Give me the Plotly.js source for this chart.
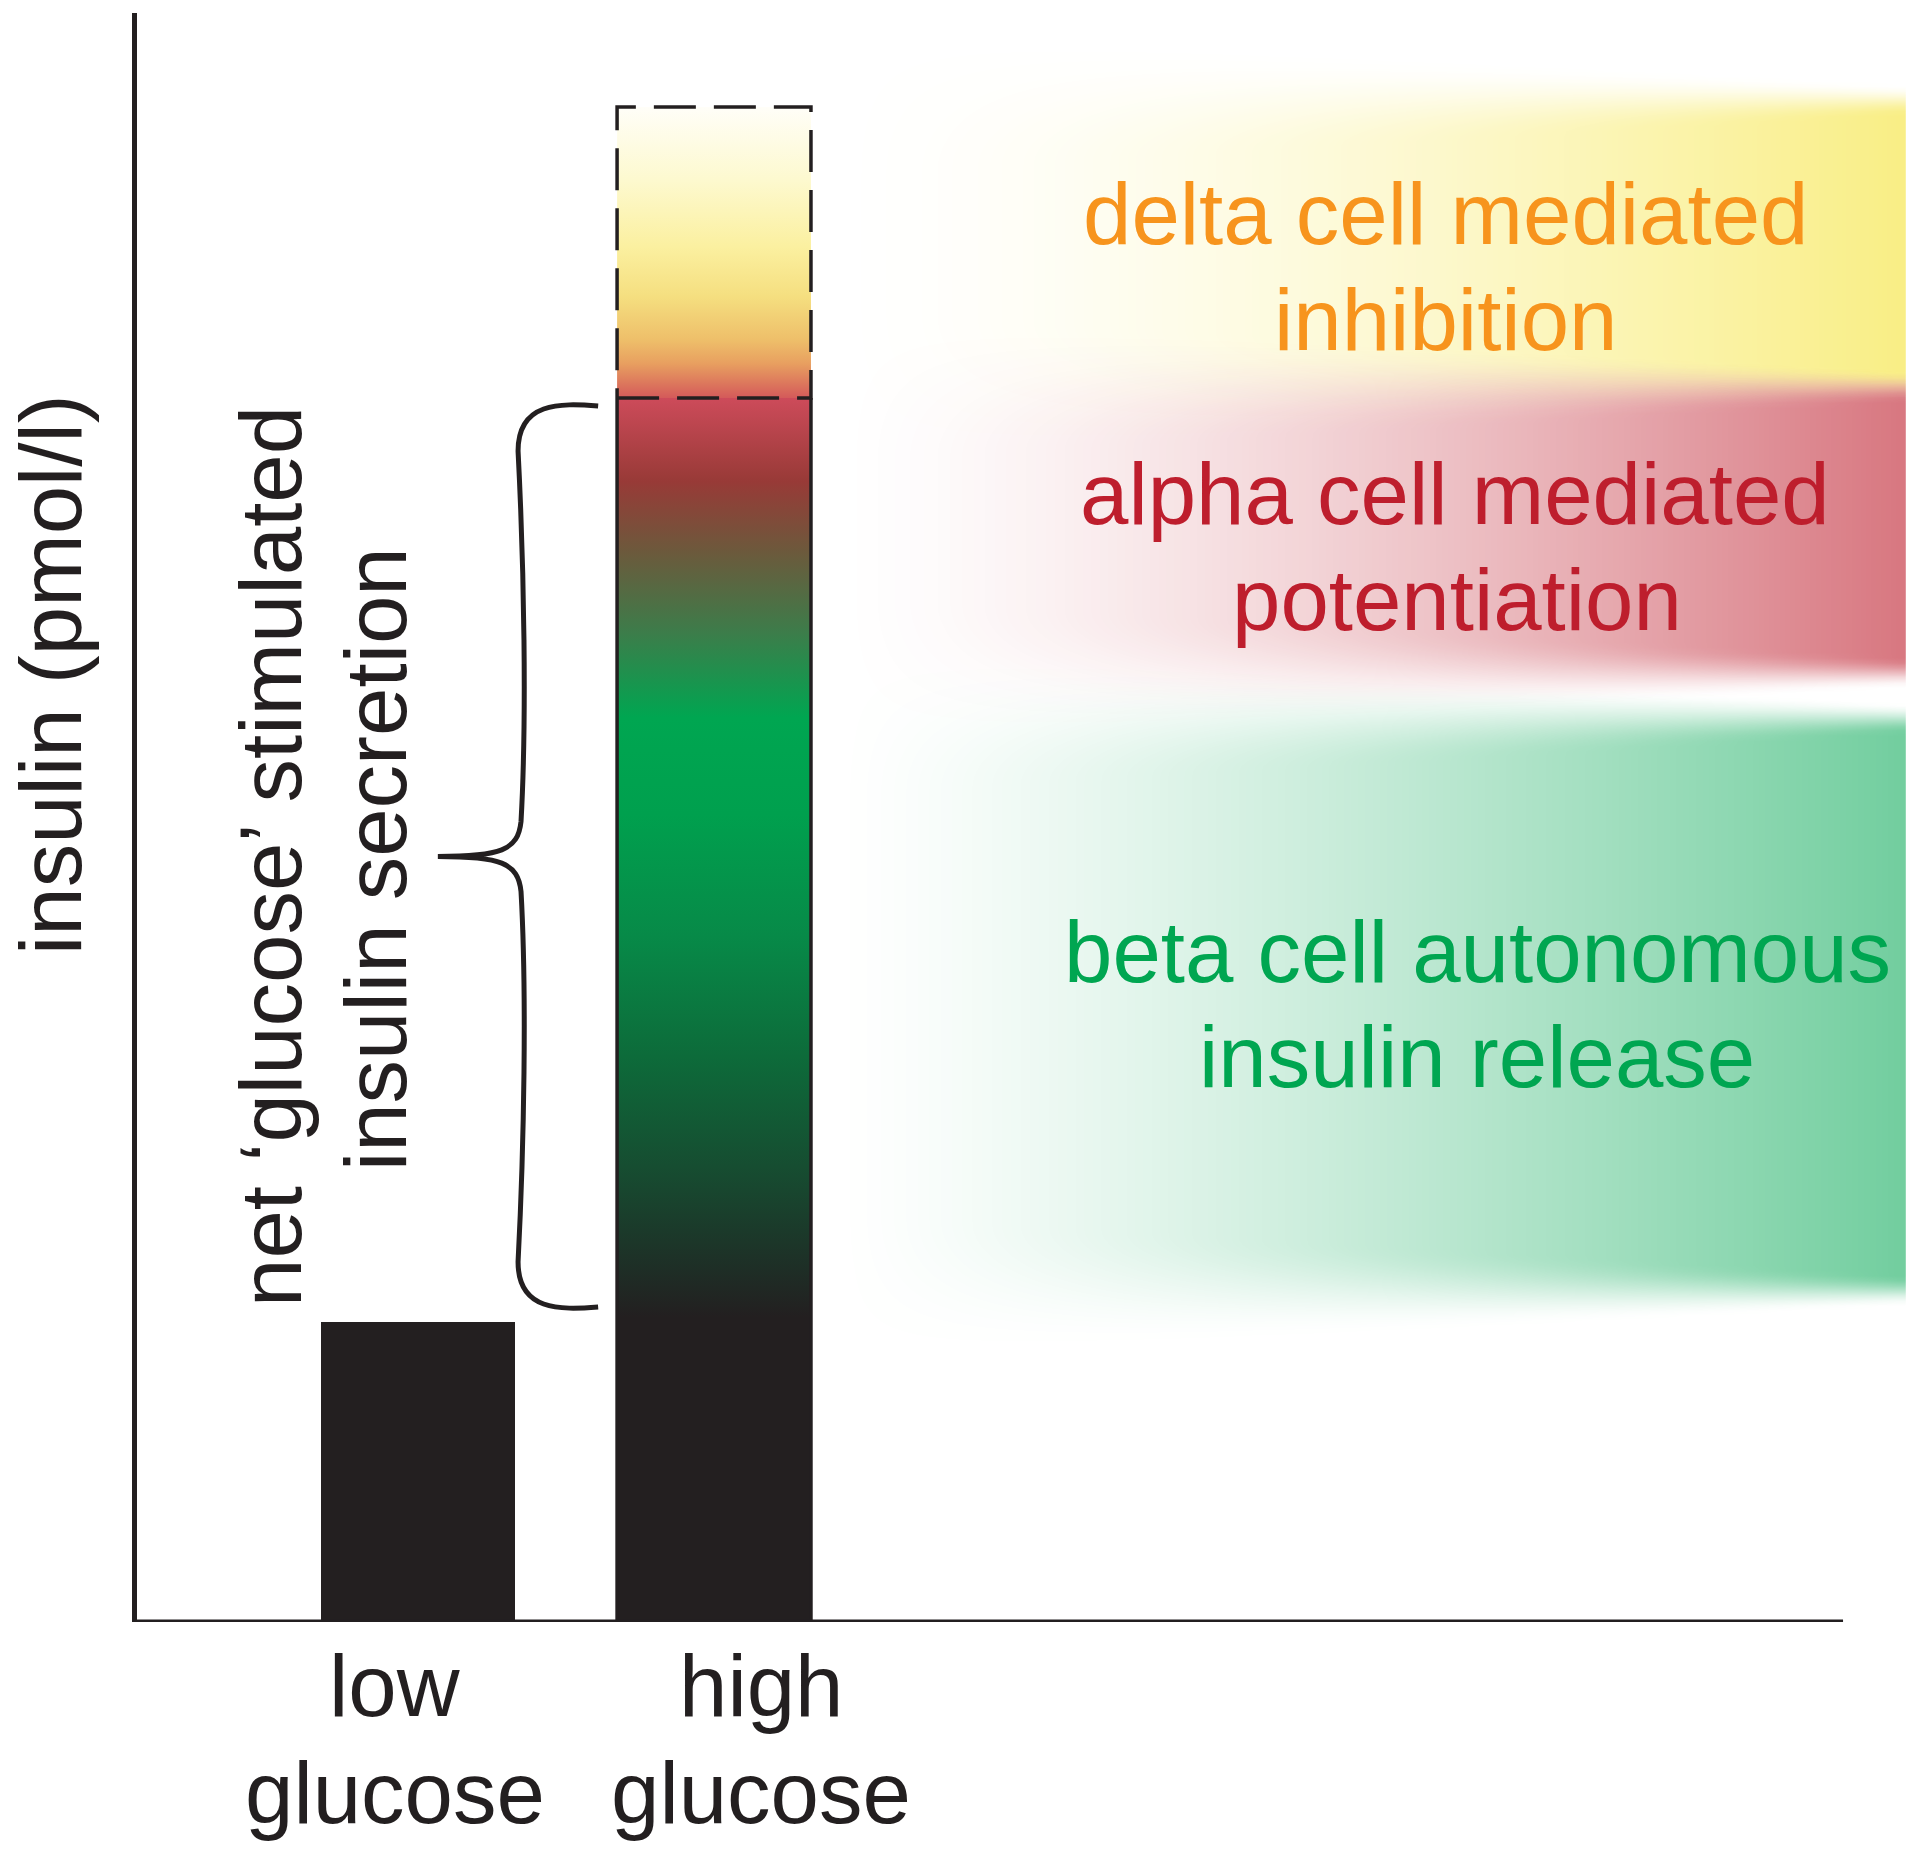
<!DOCTYPE html>
<html>
<head>
<meta charset="utf-8">
<script src="https://cdn.plot.ly/plotly-3.0.1.min.js"></script>
<style>
  html, body { margin: 0; padding: 0; background: #ffffff; }
  #chart { width: 1920px; height: 1857px; }
</style>
</head>
<body>
<div id="chart"></div>
<script>
// ---------------- data ----------------
const conditions = ["low glucose", "high glucose"];
const tickLines = [["low", "glucose"], ["high", "glucose"]];
const insulin = [30, 122.4];            // measured net insulin (arbitrary units)
const insulinWithoutDelta = 151.5;      // high glucose without delta-cell inhibition
const yAxisTitle = "insulin (pmol/l)";
const bracketLines = ["net \u2018glucose\u2019 stimulated", "insulin secretion"];

const bandNames = ["delta", "alpha", "beta"];
const bandLines = [
  ["delta cell mediated", "inhibition"],
  ["alpha cell mediated", "potentiation"],
  ["beta cell autonomous", "insulin release"]
];
const bandLow  = [123.6, 95.0, 33.2];
const bandHigh = [152.2, 123.6, 90.4];

// ---------------- styles ----------------
const INK = "#231f20";
const FONT = "Liberation Sans, Arial, Helvetica, sans-serif";
const FS = 87;
const bandTextColors = ["#f7941d", "#be1e2d", "#00a651"];
const bandGlowRGB = [[245, 228, 60], [190, 30, 45], [0, 166, 81]];
const bandGlowAlpha = [0.62, 0.6, 0.55];
const bandGlowPow = [1.5, 1.4, 1.25];
const barW = 0.655;
const xPos = [0, 1];

const xRange = [-0.9493, 5.074];
const yRange = [0, 160.9];

// ---------------- glows (decorative soft backgrounds) ----------------
function smooth(u) { u = Math.max(0, Math.min(1, u)); return u * u * (3 - 2 * u); }
function glowTrace(i) {
  const gx0 = 1.42, gx1 = 5.0;
  const xs = [], ys = [], z = [];
  const nx = 70;
  for (let k = 0; k <= nx; k++) xs.push(gx0 + (gx1 - gx0) * k / nx);
  const lo = bandLow[i], hi = bandHigh[i];
  for (let y = lo - 14; y <= hi + 14; y += 0.5) ys.push(y);
  ys.forEach(y => {
    z.push(xs.map(x => {
      const t = (x - gx0) / (gx1 - gx0);
      const h = Math.pow(Math.max(0, t), bandGlowPow[i]);
      const f = 3.0 + 12 * (1 - t);
      const v = smooth((y - (lo - f / 2)) / f) * smooth(((hi + f / 2) - y) / f);
      return h * v;
    }));
  });
  const c = bandGlowRGB[i];
  return {
    type: "heatmap", x: xs, y: ys, z: z, zmin: 0, zmax: 1, zsmooth: "best",
    showscale: false, hoverinfo: "skip", name: bandNames[i] + " glow",
    colorscale: [[0, `rgba(${c[0]},${c[1]},${c[2]},0)`], [1, `rgba(${c[0]},${c[1]},${c[2]},${bandGlowAlpha[i]})`]]
  };
}

const traces = [];
bandNames.forEach((_, i) => traces.push(glowTrace(i)));

// bars
traces.push({
  type: "bar", x: xPos, y: insulin, width: barW, name: "insulin",
  text: conditions, textposition: "none", hoverinfo: "text+y",
  marker: { color: [INK, "rgba(0,0,0,0)"], line: { width: 0 } }
});

// gradient fill for the high glucose bar
const xl = xPos[1] - barW / 2, xr = xPos[1] + barW / 2;
traces.push({
  type: "scatter", mode: "lines", hoverinfo: "skip", showlegend: false,
  x: [xl, xl, xr, xr], y: [insulin[1], 0, 0, insulin[1]],
  fill: "toself",
  fillgradient: {
    type: "vertical", start: 0, stop: insulin[1],
    colorscale: [
      [0, "#231f20"], [0.249, "#231f20"], [0.288, "#1e2e26"], [0.363, "#174a30"],
      [0.462, "#0d6b3a"], [0.561, "#078a48"], [0.66, "#00a04e"], [0.739, "#00a651"],
      [0.809, "#3d7c4a"], [0.873, "#6b5a3c"], [0.932, "#983a37"], [1, "#cd4b5a"]
    ]
  },
  line: { color: INK, width: 3.5 }
});

// dashed potential (without delta inhibition)
traces.push({
  type: "scatter", mode: "lines", hoverinfo: "skip", showlegend: false,
  x: [xl, xr, xr, xl, xl], y: [insulin[1], insulin[1], insulinWithoutDelta, insulinWithoutDelta, insulin[1]],
  fill: "toself",
  fillgradient: {
    type: "vertical", start: insulin[1], stop: insulinWithoutDelta,
    colorscale: [
      [0, "#d45a5a"], [0.12, "#e8a060"], [0.2, "#eebf6a"], [0.35, "#f5df80"],
      [0.52, "#fbf0a0"], [0.75, "#fdf9cf"], [1, "#fffef8"]
    ]
  },
  line: { color: INK, width: 3.5, dash: "42px,18px" }
});

// ---------------- bracket ----------------
const yT = insulin[1] - 0.8, yB = insulin[0] + 1.5, yM = (yT + yB) / 2;
const xA = xl - 0.064, xS = 0.338, xP = 0.067;
const bracketPath =
  `M ${xA},${yT} C ${xA - 0.13},${yT + 0.3} ${xS},${yT + 0.4} ${xS},${yT - 4.5} ` +
  `C ${xS + 0.02},${yT - 16} ${xS + 0.03},${yM + 14} ${xS + 0.01},${yM + 3.5} ` +
  `C ${xS},${yM + 0.6} ${xS - 0.06},${yM} ${xP},${yM} ` +
  `M ${xP},${yM} C ${xS - 0.06},${yM} ${xS},${yM - 0.6} ${xS + 0.01},${yM - 3.5} ` +
  `C ${xS + 0.03},${yM - 14} ${xS + 0.02},${yB + 16} ${xS},${yB + 4.5} ` +
  `C ${xS},${yB - 0.4} ${xA - 0.13},${yB - 0.3} ${xA},${yB}`;

const shapes = [
  { type: "line", xref: "x", yref: "y", x0: -0.963, x1: 4.814, y0: 0, y1: 0,
    line: { color: INK, width: 5 }, layer: "above" },
  { type: "path", xref: "x", yref: "y", path: bracketPath,
    line: { color: INK, width: 5 }, layer: "above" }
];

// ---------------- annotations ----------------
const annotations = [];
function txt(text, x, y, color, extra) {
  annotations.push(Object.assign({
    text: text, x: x, y: y, xref: "x", yref: "y", showarrow: false,
    xanchor: "center", yanchor: "middle",
    font: { family: FONT, size: FS, color: color }
  }, extra || {}));
}
// band labels
const bandX = [[3.47, 3.47], [3.503, 3.51], [3.578, 3.578]];
const bandY = [[140.9, 130.3], [112.9, 102.3], [67.1, 56.6]];
bandLines.forEach((lines, i) => lines.forEach((ln, j) => txt(ln, bandX[i][j], bandY[i][j], bandTextColors[i])));
// tick labels (below the axis, placed in paper units vertically)
const tickX = [-0.078, 1.159];
const tickYPaper = [(1857 - 1685) / 1857, (1857 - 1792) / 1857];
tickLines.forEach((lines, i) => lines.forEach((ln, j) => txt(ln, tickX[i], tickYPaper[j], INK, { yref: "paper" })));
// bracket text
txt(bracketLines[0], -0.5, 76.5, INK, { textangle: -90 });
txt(bracketLines[1], -0.145, 76.3, INK, { textangle: -90 });
// y axis title
annotations.push({
  text: yAxisTitle, xref: "paper", yref: "y", x: 50 / 1920, y: 94.7, showarrow: false,
  xanchor: "center", yanchor: "middle", textangle: -90,
  font: { family: FONT, size: FS, color: INK }
});

const layout = {
  width: 1920, height: 1857,
  margin: { l: 0, r: 0, t: 0, b: 0, pad: 0 },
  paper_bgcolor: "#ffffff", plot_bgcolor: "rgba(0,0,0,0)",
  showlegend: false,
  xaxis: {
    domain: [137 / 1920, 1], range: xRange, showgrid: false, zeroline: false,
    showline: false, showticklabels: false, ticks: "", fixedrange: true
  },
  yaxis: {
    domain: [235 / 1857, 1844 / 1857], range: yRange, showgrid: false, zeroline: false,
    showline: true, linecolor: INK, linewidth: 5, showticklabels: false, ticks: "", fixedrange: true
  },
  shapes: shapes,
  annotations: annotations,
  bargap: 0
};

Plotly.newPlot("chart", traces, layout, { displayModeBar: false, staticPlot: true });
</script>
</body>
</html>
